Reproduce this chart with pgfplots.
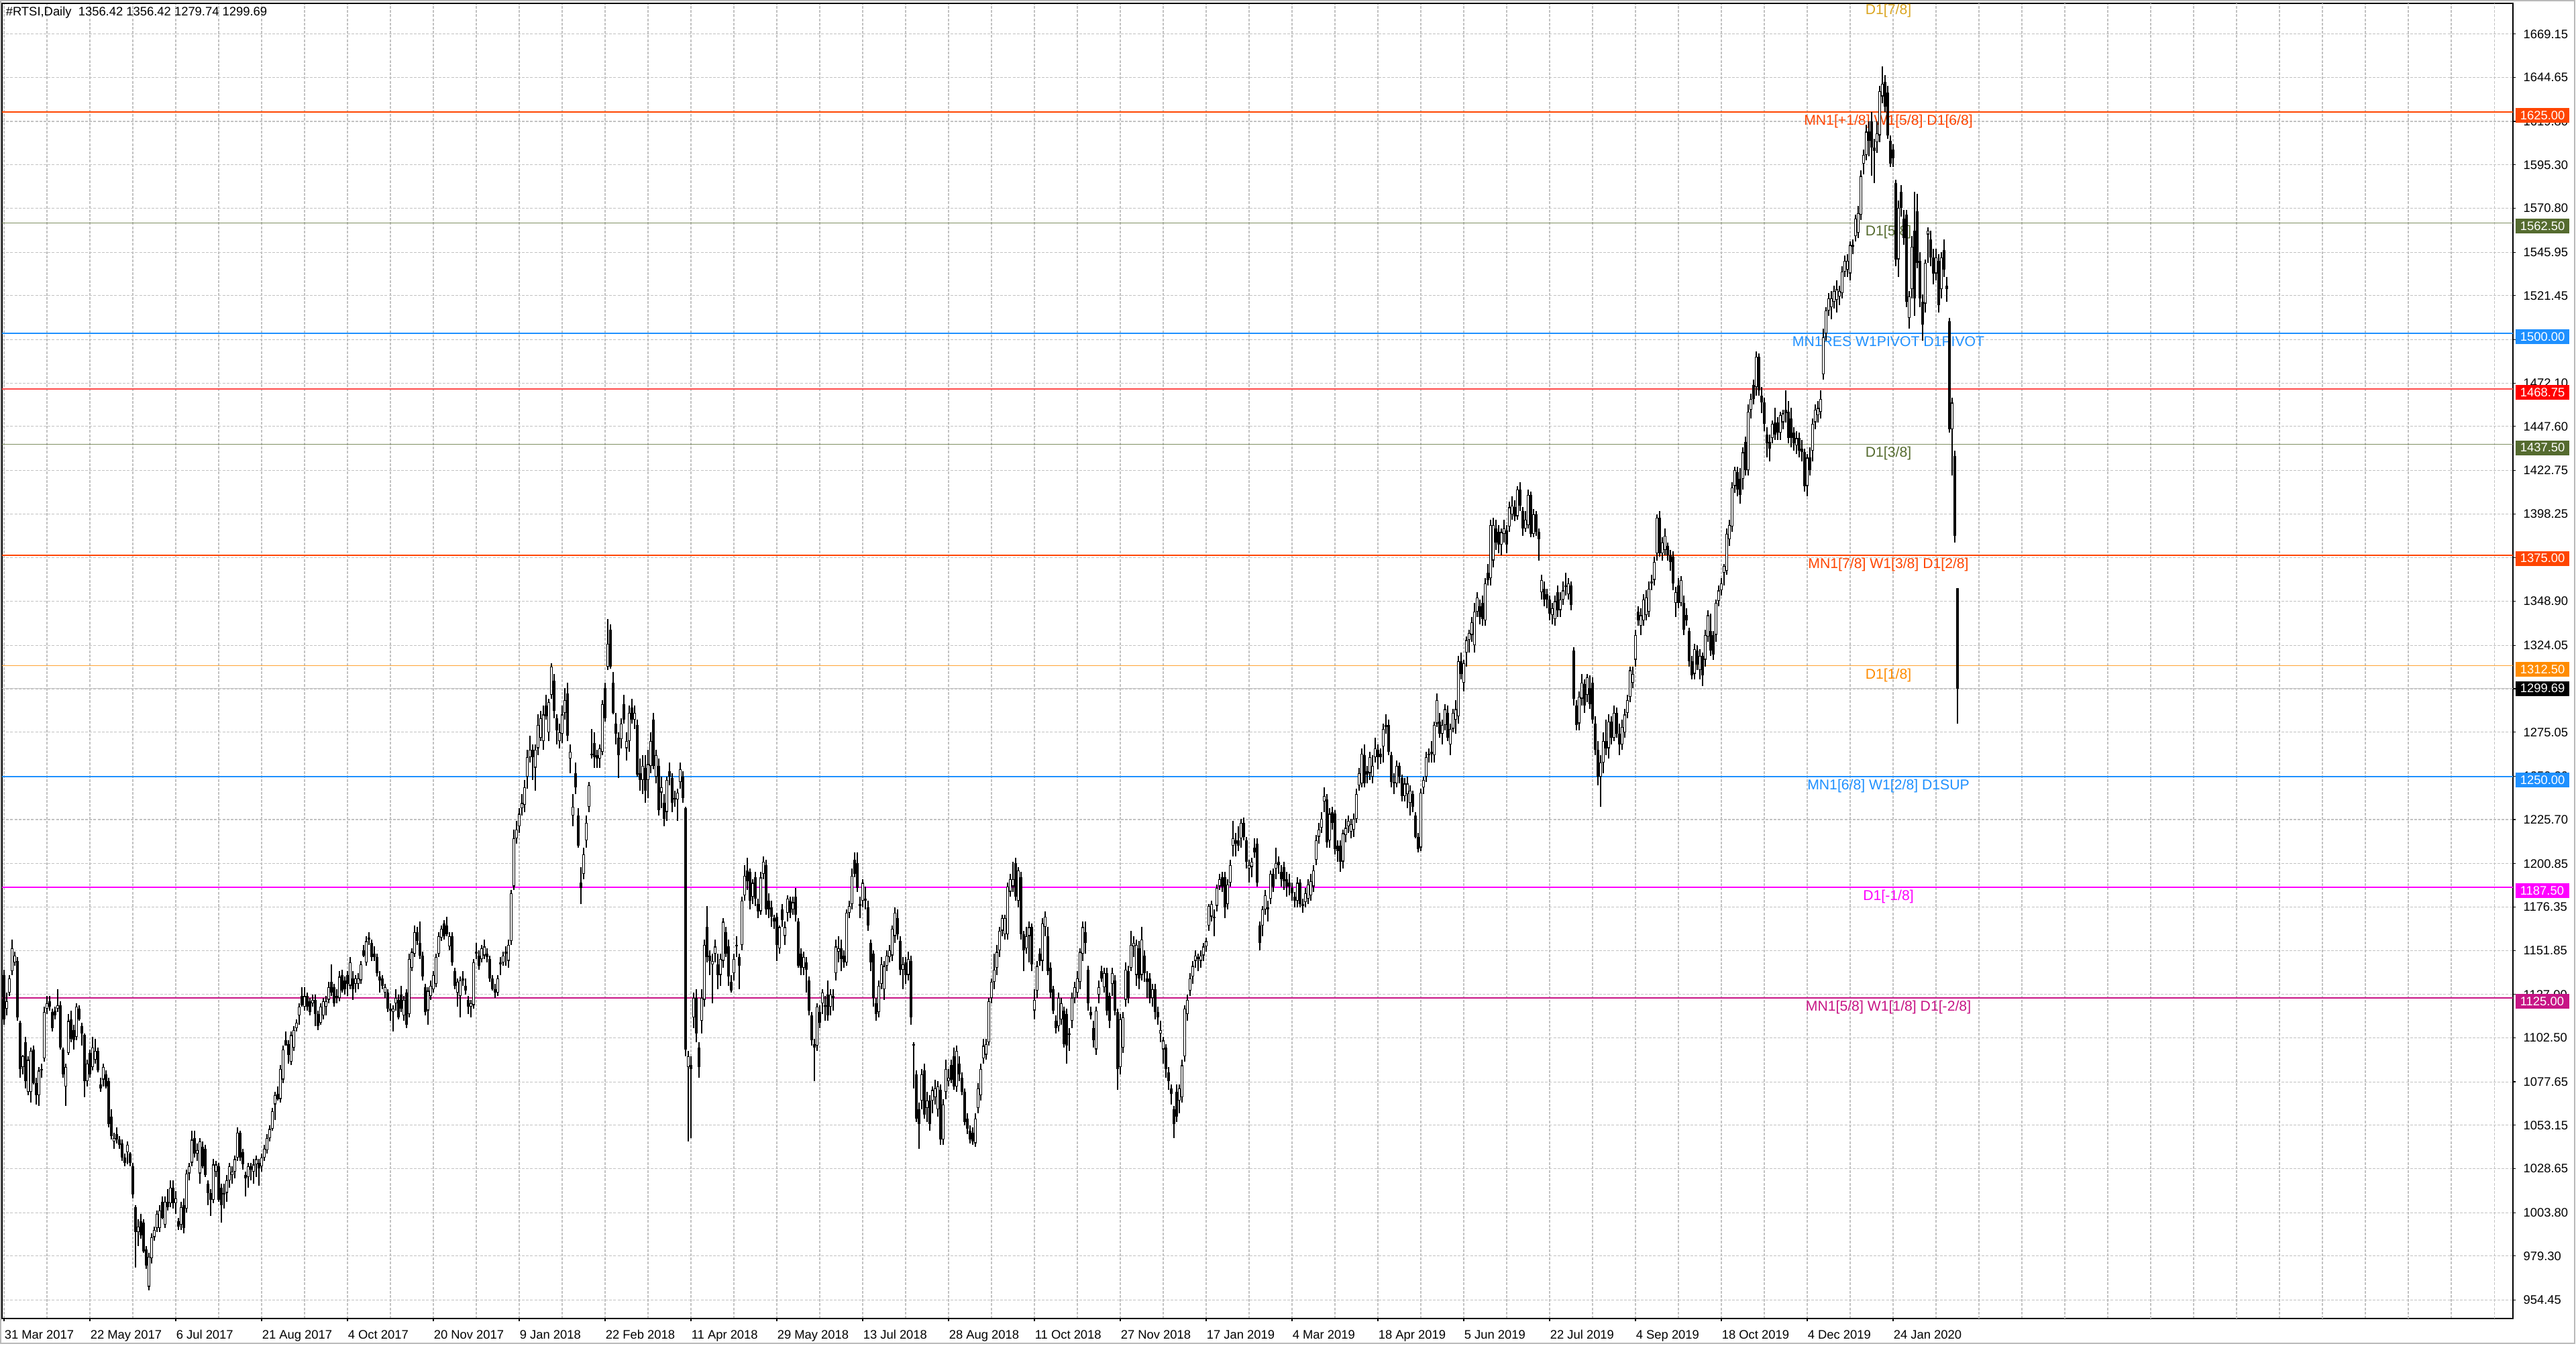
\documentclass[border=0pt]{standalone}
\usepackage{fontspec}
\setmainfont{Liberation Sans}
\usepackage{pgfplots}
\pgfplotsset{compat=1.18}
\usepackage{pgfplotstable}
\definecolor{orred}{HTML}{FF4500}
\definecolor{dblue}{HTML}{1E90FF}
\definecolor{dolive}{HTML}{556B2F}
\definecolor{dorange}{HTML}{FF8C00}
\definecolor{mvred}{HTML}{C71585}
\definecolor{gold7}{HTML}{DAA520}
\definecolor{magen}{HTML}{FF00FF}
\definecolor{gridc}{HTML}{C2C2C2}
\newcommand\lvfont{\fontsize{5.3pt}{6pt}\selectfont}
\newcommand\smfont{\fontsize{4.6pt}{5.5pt}\selectfont}
\tikzset{lbl/.style={font=\lvfont, anchor=north, inner sep=0pt, yshift=-0.8pt},
  pbox/.style={anchor=west, xshift=0.75pt, yshift=-1.25pt, text=white, font=\smfont, inner xsep=1.75pt, inner ysep=0pt, minimum height=5.5pt, text width=16.5pt, align=left}}

% daily candles: per bar two rows (x, low|high, open|close, white-body flag), then a break row
\pgfplotstableread{
x y b s
0 1110 1138 0
0 1141 1113 0
0 nan nan 0
1 1115 1119 1
1 1128 1123 -1
0 nan nan 0
2 1126 1128 1
2 1138 1136 -1
0 nan nan 0
3 1138 1140 1
3 1158 1153 -1
0 nan nan 0
4 1143 1145 1
4 1151 1149 -1
0 nan nan 0
5 1112 1146 0
5 1148 1114 0
0 nan nan 0
6 1080 1111 0
6 1112 1085 0
0 nan nan 0
7 1082 1086 1
7 1093 1092 -1
0 nan nan 0
8 1074 1100 0
8 1103 1078 0
0 nan nan 0
9 1070 1072 1
9 1092 1090 -1
0 nan nan 0
10 1066 1072 1
10 1097 1095 -1
0 nan nan 0
11 1076 1096 0
11 1098 1077 0
0 nan nan 0
12 1065 1077 0
12 1080 1070 0
0 nan nan 0
13 1064 1070 1
13 1086 1084 -1
0 nan nan 0
14 1080 1084 0
14 1088 1085 0
0 nan nan 0
15 1089 1091 1
15 1120 1117 -1
0 nan nan 0
16 1116 1119 1
16 1126 1122 -1
0 nan nan 0
17 1118 1123 0
17 1126 1120 0
0 nan nan 0
18 1106 1117 0
18 1119 1108 0
0 nan nan 0
19 1113 1118 0
19 1120 1115 0
0 nan nan 0
20 1117 1119 1
20 1130 1121 -1
0 nan nan 0
21 1096 1121 0
21 1123 1097 0
0 nan nan 0
22 1080 1096 0
22 1097 1082 0
0 nan nan 0
23 1064 1075 1
23 1088 1086 -1
0 nan nan 0
24 1093 1094 1
24 1116 1112 -1
0 nan nan 0
25 1100 1113 0
25 1118 1102 0
0 nan nan 0
26 1096 1107 0
26 1110 1101 0
0 nan nan 0
27 1101 1103 1
27 1122 1120 -1
0 nan nan 0
28 1112 1119 0
28 1121 1113 0
0 nan nan 0
29 1098 1109 0
29 1111 1105 0
0 nan nan 0
30 1069 1104 0
30 1105 1078 0
0 nan nan 0
31 1075 1078 1
31 1090 1088 -1
0 nan nan 0
32 1080 1094 0
32 1096 1082 0
0 nan nan 0
33 1084 1086 1
33 1103 1097 -1
0 nan nan 0
34 1088 1090 1
34 1102 1095 -1
0 nan nan 0
35 1083 1095 0
35 1097 1084 0
0 nan nan 0
36 1072 1076 0
36 1080 1074 0
0 nan nan 0
37 1075 1079 1
37 1088 1086 -1
0 nan nan 0
38 1074 1082 0
38 1084 1075 0
0 nan nan 0
39 1052 1078 0
39 1080 1054 0
0 nan nan 0
40 1045 1058 0
40 1062 1047 0
0 nan nan 0
41 1040 1044 1
41 1049 1046 -1
0 nan nan 0
42 1043 1048 0
42 1052 1045 0
0 nan nan 0
43 1040 1045 0
43 1047 1042 0
0 nan nan 0
44 1033 1043 0
44 1045 1035 0
0 nan nan 0
45 1030 1035 0
45 1037 1032 0
0 nan nan 0
46 1031 1038 1
46 1044 1042 -1
0 nan nan 0
47 1030 1037 0
47 1038 1032 0
0 nan nan 0
48 1012 1030 0
48 1032 1014 0
0 nan nan 0
49 973 1007 0
49 1008 993 0
0 nan nan 0
50 985 993 1
50 1000 996 -1
0 nan nan 0
51 989 999 0
51 1003 991 0
0 nan nan 0
52 981 998 0
52 1000 982 0
0 nan nan 0
53 972 983 0
53 985 974 0
0 nan nan 0
54 960 962 1
54 981 979 -1
0 nan nan 0
55 975 978 1
55 992 990 -1
0 nan nan 0
56 988 990 1
56 996 994 -1
0 nan nan 0
57 993 995 1
57 1005 1003 -1
0 nan nan 0
58 993 995 1
58 1008 1005 -1
0 nan nan 0
59 1000 1010 0
59 1013 1001 0
0 nan nan 0
60 995 997 1
60 1013 1010 -1
0 nan nan 0
61 1005 1010 0
61 1017 1007 0
0 nan nan 0
62 1007 1009 1
62 1022 1018 -1
0 nan nan 0
63 1006 1018 0
63 1022 1009 0
0 nan nan 0
64 1003 1009 1
64 1016 1012 -1
0 nan nan 0
65 994 999 0
65 1001 996 0
0 nan nan 0
66 994 997 1
66 1010 1007 -1
0 nan nan 0
67 992 1008 0
67 1012 995 0
0 nan nan 0
68 1004 1006 1
68 1028 1026 -1
0 nan nan 0
69 1022 1026 1
69 1032 1030 -1
0 nan nan 0
70 1030 1032 1
70 1050 1045 -1
0 nan nan 0
71 1035 1046 0
71 1050 1037 0
0 nan nan 0
72 1033 1037 1
72 1043 1039 -1
0 nan nan 0
73 1020 1026 1
73 1046 1044 -1
0 nan nan 0
74 1029 1041 0
74 1044 1030 0
0 nan nan 0
75 1024 1040 0
75 1042 1025 0
0 nan nan 0
76 1008 1020 0
76 1022 1015 0
0 nan nan 0
77 1002 1015 0
77 1017 1011 0
0 nan nan 0
78 1009 1011 1
78 1034 1031 -1
0 nan nan 0
79 1024 1027 1
79 1033 1031 -1
0 nan nan 0
80 1010 1030 0
80 1032 1011 0
0 nan nan 0
81 998 1018 0
81 1020 1008 0
0 nan nan 0
82 1006 1014 0
82 1020 1015 0
0 nan nan 0
83 1010 1015 1
83 1025 1022 -1
0 nan nan 0
84 1018 1022 1
84 1032 1030 -1
0 nan nan 0
85 1020 1025 1
85 1030 1027 -1
0 nan nan 0
86 1023 1027 1
86 1036 1034 -1
0 nan nan 0
87 1033 1035 1
87 1052 1049 -1
0 nan nan 0
88 1033 1049 0
88 1050 1035 0
0 nan nan 0
89 1028 1038 0
89 1040 1031 0
0 nan nan 0
90 1013 1025 0
90 1027 1023 0
0 nan nan 0
91 1018 1024 1
91 1032 1030 -1
0 nan nan 0
92 1022 1030 0
92 1032 1028 0
0 nan nan 0
93 1020 1027 1
93 1034 1031 -1
0 nan nan 0
94 1024 1031 1
94 1036 1034 -1
0 nan nan 0
95 1019 1032 0
95 1034 1029 0
0 nan nan 0
96 1027 1030 1
96 1037 1035 -1
0 nan nan 0
97 1033 1035 1
97 1042 1040 -1
0 nan nan 0
98 1037 1039 1
98 1048 1046 -1
0 nan nan 0
99 1044 1046 1
99 1053 1051 -1
0 nan nan 0
100 1050 1051 1
100 1063 1061 -1
0 nan nan 0
101 1056 1065 1
101 1072 1070 -1
0 nan nan 0
102 1067 1071 0
102 1075 1068 0
0 nan nan 0
103 1066 1068 1
103 1087 1085 -1
0 nan nan 0
104 1077 1079 1
104 1098 1096 -1
0 nan nan 0
105 1098 1101 0
105 1106 1098 0
0 nan nan 0
106 1088 1099 0
106 1101 1093 0
0 nan nan 0
107 1087 1089 1
107 1106 1104 -1
0 nan nan 0
108 1095 1097 1
108 1109 1107 -1
0 nan nan 0
109 1106 1108 1
109 1113 1111 -1
0 nan nan 0
110 1110 1115 1
110 1122 1120 -1
0 nan nan 0
111 1120 1126 0
111 1131 1121 0
0 nan nan 0
112 1118 1120 1
112 1131 1126 -1
0 nan nan 0
113 1118 1126 0
113 1128 1120 0
0 nan nan 0
114 1115 1123 0
114 1125 1117 0
0 nan nan 0
115 1120 1122 1
115 1127 1124 -1
0 nan nan 0
116 1109 1124 0
116 1127 1116 0
0 nan nan 0
117 1107 1116 0
117 1118 1109 0
0 nan nan 0
118 1110 1111 1
118 1122 1120 -1
0 nan nan 0
119 1113 1115 1
119 1125 1123 -1
0 nan nan 0
120 1115 1120 1
120 1126 1123 -1
0 nan nan 0
121 1122 1124 1
121 1134 1131 -1
0 nan nan 0
122 1126 1134 0
122 1144 1128 0
0 nan nan 0
123 1120 1131 0
123 1133 1122 0
0 nan nan 0
124 1122 1126 0
124 1130 1125 0
0 nan nan 0
125 1123 1125 1
125 1140 1137 -1
0 nan nan 0
126 1128 1138 0
126 1141 1129 0
0 nan nan 0
127 1127 1135 0
127 1137 1130 0
0 nan nan 0
128 1126 1138 0
128 1140 1133 0
0 nan nan 0
129 1130 1132 1
129 1148 1145 -1
0 nan nan 0
130 1124 1136 0
130 1140 1130 0
0 nan nan 0
131 1128 1133 1
131 1138 1136 -1
0 nan nan 0
132 1130 1133 1
132 1139 1136 -1
0 nan nan 0
133 1133 1135 1
133 1146 1144 -1
0 nan nan 0
134 1148 1152 0
134 1155 1149 0
0 nan nan 0
135 1143 1145 1
135 1160 1157 -1
0 nan nan 0
136 1155 1158 0
136 1162 1159 0
0 nan nan 0
137 1146 1156 0
137 1158 1148 0
0 nan nan 0
138 1146 1150 0
138 1154 1148 0
0 nan nan 0
139 1137 1148 0
139 1150 1139 0
0 nan nan 0
140 1128 1137 0
140 1140 1135 0
0 nan nan 0
141 1130 1136 0
141 1138 1132 0
0 nan nan 0
142 1125 1128 1
142 1133 1131 -1
0 nan nan 0
143 1117 1128 0
143 1130 1119 0
0 nan nan 0
144 1112 1119 0
144 1122 1118 0
0 nan nan 0
145 1106 1117 1
145 1121 1119 -1
0 nan nan 0
146 1118 1122 1
146 1130 1125 -1
0 nan nan 0
147 1113 1124 0
147 1127 1114 0
0 nan nan 0
148 1117 1127 0
148 1132 1119 0
0 nan nan 0
149 1112 1115 1
149 1126 1124 -1
0 nan nan 0
150 1108 1128 0
150 1130 1110 0
0 nan nan 0
151 1114 1116 1
151 1150 1147 -1
0 nan nan 0
152 1140 1142 1
152 1153 1151 -1
0 nan nan 0
153 1148 1150 1
153 1166 1162 -1
0 nan nan 0
154 1155 1162 0
154 1165 1157 0
0 nan nan 0
155 1147 1156 0
155 1168 1149 0
0 nan nan 0
156 1135 1149 0
156 1151 1137 0
0 nan nan 0
157 1115 1131 0
157 1133 1117 0
0 nan nan 0
158 1110 1118 1
158 1131 1129 -1
0 nan nan 0
159 1124 1126 1
159 1135 1132 -1
0 nan nan 0
160 1128 1130 1
160 1140 1138 -1
0 nan nan 0
161 1131 1133 1
161 1150 1148 -1
0 nan nan 0
162 1148 1150 1
162 1162 1160 -1
0 nan nan 0
163 1157 1159 1
163 1166 1164 -1
0 nan nan 0
164 1158 1167 0
164 1169 1160 0
0 nan nan 0
165 1160 1166 0
165 1171 1161 0
0 nan nan 0
166 1152 1154 1
166 1162 1160 -1
0 nan nan 0
167 1143 1160 0
167 1162 1145 0
0 nan nan 0
168 1130 1140 0
168 1142 1132 0
0 nan nan 0
169 1120 1128 1
169 1136 1134 -1
0 nan nan 0
170 1114 1126 1
170 1137 1135 -1
0 nan nan 0
171 1132 1135 0
171 1140 1136 0
0 nan nan 0
172 1127 1132 0
172 1136 1129 0
0 nan nan 0
173 1116 1124 0
173 1126 1120 0
0 nan nan 0
174 1114 1120 1
174 1124 1122 -1
0 nan nan 0
175 1119 1121 1
175 1147 1145 -1
0 nan nan 0
176 1147 1150 0
176 1156 1151 0
0 nan nan 0
177 1141 1149 0
177 1152 1143 0
0 nan nan 0
178 1145 1147 1
178 1155 1153 -1
0 nan nan 0
179 1147 1149 1
179 1158 1154 -1
0 nan nan 0
180 1145 1150 0
180 1153 1148 0
0 nan nan 0
181 1134 1147 0
181 1149 1136 0
0 nan nan 0
182 1129 1136 0
182 1138 1130 0
0 nan nan 0
183 1125 1130 0
183 1133 1128 0
0 nan nan 0
184 1126 1128 1
184 1138 1136 -1
0 nan nan 0
185 1138 1144 0
185 1148 1145 0
0 nan nan 0
186 1143 1145 1
186 1151 1149 -1
0 nan nan 0
187 1143 1150 0
187 1154 1151 0
0 nan nan 0
188 1142 1146 1
188 1158 1155 -1
0 nan nan 0
189 1155 1157 1
189 1186 1184 -1
0 nan nan 0
190 1186 1188 1
190 1220 1215 -1
0 nan nan 0
191 1212 1215 1
191 1225 1220 -1
0 nan nan 0
192 1218 1222 1
192 1232 1229 -1
0 nan nan 0
193 1228 1232 1
193 1240 1235 -1
0 nan nan 0
194 1230 1234 1
194 1248 1244 -1
0 nan nan 0
195 1243 1250 1
195 1265 1261 -1
0 nan nan 0
196 1258 1261 1
196 1273 1265 -1
0 nan nan 0
197 1248 1265 0
197 1268 1261 0
0 nan nan 0
198 1242 1255 1
198 1268 1265 -1
0 nan nan 0
199 1262 1266 1
199 1285 1279 -1
0 nan nan 0
200 1270 1272 1
200 1287 1283 -1
0 nan nan 0
201 1265 1270 1
201 1290 1285 -1
0 nan nan 0
202 1282 1290 0
202 1296 1284 0
0 nan nan 0
203 1270 1275 1
203 1294 1292 -1
0 nan nan 0
204 1294 1296 1
204 1314 1312 -1
0 nan nan 0
205 1283 1304 0
205 1308 1287 0
0 nan nan 0
206 1268 1283 0
206 1285 1276 0
0 nan nan 0
207 1266 1270 1
207 1280 1275 -1
0 nan nan 0
208 1269 1274 1
208 1290 1285 -1
0 nan nan 0
209 1282 1286 1
209 1300 1293 -1
0 nan nan 0
210 1270 1297 0
210 1303 1273 0
0 nan nan 0
211 1252 1260 1
211 1268 1264 -1
0 nan nan 0
212 1222 1228 1
212 1240 1233 -1
0 nan nan 0
213 1240 1252 0
213 1258 1244 0
0 nan nan 0
214 1210 1228 0
214 1232 1211 0
0 nan nan 0
215 1178 1190 0
215 1199 1187 0
0 nan nan 0
216 1192 1195 1
216 1210 1206 -1
0 nan nan 0
217 1210 1214 1
217 1228 1224 -1
0 nan nan 0
218 1230 1233 1
218 1247 1245 -1
0 nan nan 0
219 1260 1263 0
219 1277 1262 0
0 nan nan 0
220 1255 1269 0
220 1275 1261 0
0 nan nan 0
221 1255 1262 0
221 1265 1260 0
0 nan nan 0
222 1255 1260 1
222 1268 1266 -1
0 nan nan 0
223 1262 1264 1
223 1293 1291 -1
0 nan nan 0
224 1281 1300 0
224 1303 1283 0
0 nan nan 0
225 1310 1312 1
225 1339 1325 -1
0 nan nan 0
226 1311 1333 0
226 1336 1312 0
0 nan nan 0
227 1285 1303 0
227 1309 1286 0
0 nan nan 0
228 1268 1280 0
228 1286 1274 0
0 nan nan 0
229 1249 1272 0
229 1275 1262 0
0 nan nan 0
230 1266 1271 1
230 1283 1280 -1
0 nan nan 0
231 1280 1291 0
231 1296 1282 0
0 nan nan 0
232 1259 1266 1
232 1275 1270 -1
0 nan nan 0
233 1264 1270 1
233 1290 1286 -1
0 nan nan 0
234 1280 1289 0
234 1294 1282 0
0 nan nan 0
235 1277 1282 1
235 1290 1286 -1
0 nan nan 0
236 1250 1279 0
236 1282 1251 0
0 nan nan 0
237 1242 1252 0
237 1260 1248 0
0 nan nan 0
238 1240 1248 1
238 1262 1256 -1
0 nan nan 0
239 1235 1255 0
239 1262 1242 0
0 nan nan 0
240 1238 1248 1
240 1265 1257 -1
0 nan nan 0
241 1252 1256 1
241 1275 1270 -1
0 nan nan 0
242 1254 1282 0
242 1286 1256 0
0 nan nan 0
243 1246 1250 1
243 1265 1262 -1
0 nan nan 0
244 1228 1256 0
244 1260 1231 0
0 nan nan 0
245 1232 1241 1
245 1250 1244 -1
0 nan nan 0
246 1222 1235 0
246 1240 1226 0
0 nan nan 0
247 1225 1230 1
247 1250 1248 -1
0 nan nan 0
248 1245 1253 0
248 1258 1250 0
0 nan nan 0
249 1230 1249 0
249 1252 1235 0
0 nan nan 0
250 1233 1238 0
250 1242 1237 0
0 nan nan 0
251 1225 1237 1
251 1243 1241 -1
0 nan nan 0
252 1243 1247 1
252 1258 1254 -1
0 nan nan 0
253 1235 1250 0
253 1253 1238 0
0 nan nan 0
254 1092 1232 0
254 1233 1096 0
0 nan nan 0
255 1044 1086 1
255 1095 1092 -1
0 nan nan 0
256 1046 1087 0
256 1092 1085 0
0 nan nan 0
257 1108 1114 1
257 1128 1125 -1
0 nan nan 0
258 1100 1125 0
258 1130 1105 0
0 nan nan 0
259 1080 1097 0
259 1100 1086 0
0 nan nan 0
260 1105 1112 1
260 1130 1125 -1
0 nan nan 0
261 1120 1124 1
261 1158 1155 -1
0 nan nan 0
262 1145 1165 0
262 1177 1148 0
0 nan nan 0
263 1138 1149 0
263 1152 1146 0
0 nan nan 0
264 1122 1144 1
264 1150 1146 -1
0 nan nan 0
265 1145 1150 1
265 1158 1154 -1
0 nan nan 0
266 1130 1144 0
266 1150 1138 0
0 nan nan 0
267 1132 1138 1
267 1150 1147 -1
0 nan nan 0
268 1142 1146 1
268 1170 1168 -1
0 nan nan 0
269 1148 1162 0
269 1165 1150 0
0 nan nan 0
270 1132 1154 0
270 1158 1137 0
0 nan nan 0
271 1128 1134 0
271 1138 1129 0
0 nan nan 0
272 1135 1139 1
272 1150 1147 -1
0 nan nan 0
273 1148 1155 0
273 1160 1154 0
0 nan nan 0
274 1130 1148 0
274 1150 1143 0
0 nan nan 0
275 1152 1155 1
275 1182 1180 -1
0 nan nan 0
276 1180 1183 1
276 1200 1194 -1
0 nan nan 0
277 1186 1197 0
277 1204 1191 0
0 nan nan 0
278 1175 1196 0
278 1198 1180 0
0 nan nan 0
279 1178 1182 1
279 1192 1190 -1
0 nan nan 0
280 1177 1193 0
280 1196 1181 0
0 nan nan 0
281 1170 1178 0
281 1181 1174 0
0 nan nan 0
282 1172 1174 1
282 1196 1193 -1
0 nan nan 0
283 1192 1195 1
283 1205 1202 -1
0 nan nan 0
284 1172 1200 0
284 1203 1175 0
0 nan nan 0
285 1170 1180 0
285 1184 1175 0
0 nan nan 0
286 1165 1176 0
286 1180 1171 0
0 nan nan 0
287 1164 1170 0
287 1172 1168 0
0 nan nan 0
288 1146 1171 0
288 1173 1155 0
0 nan nan 0
289 1150 1153 1
289 1166 1165 -1
0 nan nan 0
290 1165 1175 0
290 1178 1169 0
0 nan nan 0
291 1155 1160 1
291 1168 1165 -1
0 nan nan 0
292 1168 1173 1
292 1183 1181 -1
0 nan nan 0
293 1170 1180 0
293 1182 1173 0
0 nan nan 0
294 1172 1175 1
294 1182 1179 -1
0 nan nan 0
295 1168 1182 0
295 1187 1172 0
0 nan nan 0
296 1142 1168 0
296 1170 1143 0
0 nan nan 0
297 1138 1150 0
297 1153 1142 0
0 nan nan 0
298 1138 1142 1
298 1151 1148 -1
0 nan nan 0
299 1128 1145 0
299 1148 1141 0
0 nan nan 0
300 1115 1135 0
300 1137 1118 0
0 nan nan 0
301 1098 1115 0
301 1117 1101 0
0 nan nan 0
302 1078 1099 0
302 1102 1097 0
0 nan nan 0
303 1095 1098 1
303 1122 1120 -1
0 nan nan 0
304 1108 1117 0
304 1121 1111 0
0 nan nan 0
305 1116 1122 1
305 1130 1128 -1
0 nan nan 0
306 1112 1120 0
306 1126 1121 0
0 nan nan 0
307 1112 1127 0
307 1135 1115 0
0 nan nan 0
308 1115 1120 1
308 1130 1127 -1
0 nan nan 0
309 1118 1125 0
309 1130 1126 0
0 nan nan 0
310 1135 1139 1
310 1158 1154 -1
0 nan nan 0
311 1145 1151 1
311 1160 1153 -1
0 nan nan 0
312 1140 1153 0
312 1158 1147 0
0 nan nan 0
313 1142 1149 0
313 1152 1145 0
0 nan nan 0
314 1143 1145 1
314 1175 1173 -1
0 nan nan 0
315 1170 1173 1
315 1180 1177 -1
0 nan nan 0
316 1175 1178 1
316 1198 1194 -1
0 nan nan 0
317 1193 1203 0
317 1207 1195 0
0 nan nan 0
318 1185 1201 0
318 1207 1187 0
0 nan nan 0
319 1170 1177 0
319 1182 1178 0
0 nan nan 0
320 1176 1180 1
320 1192 1190 -1
0 nan nan 0
321 1175 1180 0
321 1188 1181 0
0 nan nan 0
322 1163 1176 0
322 1180 1166 0
0 nan nan 0
323 1140 1156 0
323 1158 1145 0
0 nan nan 0
324 1120 1150 0
324 1152 1125 0
0 nan nan 0
325 1112 1122 0
325 1125 1116 0
0 nan nan 0
326 1114 1117 1
326 1135 1132 -1
0 nan nan 0
327 1130 1133 1
327 1148 1144 -1
0 nan nan 0
328 1124 1130 1
328 1146 1143 -1
0 nan nan 0
329 1140 1143 1
329 1152 1149 -1
0 nan nan 0
330 1145 1148 1
330 1155 1152 -1
0 nan nan 0
331 1146 1149 1
331 1166 1164 -1
0 nan nan 0
332 1156 1160 1
332 1176 1173 -1
0 nan nan 0
333 1158 1170 0
333 1175 1161 0
0 nan nan 0
334 1138 1157 0
334 1160 1141 0
0 nan nan 0
335 1130 1141 1
335 1148 1144 -1
0 nan nan 0
336 1133 1145 0
336 1148 1138 0
0 nan nan 0
337 1135 1138 1
337 1151 1147 -1
0 nan nan 0
338 1110 1146 0
338 1149 1114 0
0 nan nan 0
339 1074 1098 0
339 1100 1099 0
0 nan nan 0
340 1055 1082 0
340 1084 1057 0
0 nan nan 0
341 1040 1062 0
341 1066 1054 0
0 nan nan 0
342 1062 1067 1
342 1085 1082 -1
0 nan nan 0
343 1057 1084 0
343 1088 1059 0
0 nan nan 0
344 1055 1063 1
344 1072 1067 -1
0 nan nan 0
345 1050 1067 0
345 1070 1054 0
0 nan nan 0
346 1060 1067 1
346 1075 1073 -1
0 nan nan 0
347 1065 1069 1
347 1079 1074 -1
0 nan nan 0
348 1058 1062 1
348 1078 1075 -1
0 nan nan 0
349 1042 1073 0
349 1076 1045 0
0 nan nan 0
350 1042 1045 1
350 1068 1065 -1
0 nan nan 0
351 1068 1072 1
351 1090 1085 -1
0 nan nan 0
352 1075 1078 1
352 1085 1080 -1
0 nan nan 0
353 1077 1087 0
353 1090 1079 0
0 nan nan 0
354 1073 1092 0
354 1097 1075 0
0 nan nan 0
355 1072 1075 1
355 1098 1095 -1
0 nan nan 0
356 1078 1088 0
356 1092 1082 0
0 nan nan 0
357 1070 1080 0
357 1083 1072 0
0 nan nan 0
358 1053 1072 0
358 1074 1055 0
0 nan nan 0
359 1048 1057 0
359 1060 1051 0
0 nan nan 0
360 1043 1050 0
360 1053 1045 0
0 nan nan 0
361 1042 1049 0
361 1052 1044 0
0 nan nan 0
362 1041 1043 1
362 1060 1057 -1
0 nan nan 0
363 1060 1063 1
363 1077 1074 -1
0 nan nan 0
364 1067 1070 1
364 1088 1085 -1
0 nan nan 0
365 1088 1091 1
365 1102 1098 -1
0 nan nan 0
366 1090 1093 1
366 1102 1099 -1
0 nan nan 0
367 1098 1100 1
367 1125 1123 -1
0 nan nan 0
368 1122 1125 1
368 1136 1134 -1
0 nan nan 0
369 1130 1134 1
369 1150 1141 -1
0 nan nan 0
370 1138 1142 1
370 1155 1151 -1
0 nan nan 0
371 1148 1152 1
371 1165 1163 -1
0 nan nan 0
372 1160 1163 1
372 1172 1170 -1
0 nan nan 0
373 1158 1161 1
373 1172 1170 -1
0 nan nan 0
374 1158 1161 1
374 1190 1188 -1
0 nan nan 0
375 1182 1185 1
375 1195 1192 -1
0 nan nan 0
376 1185 1188 1
376 1202 1192 -1
0 nan nan 0
377 1180 1201 0
377 1204 1182 0
0 nan nan 0
378 1176 1180 1
378 1199 1197 -1
0 nan nan 0
379 1158 1193 0
379 1196 1161 0
0 nan nan 0
380 1140 1161 0
380 1163 1152 0
0 nan nan 0
381 1150 1153 1
381 1165 1160 -1
0 nan nan 0
382 1145 1160 1
382 1168 1165 -1
0 nan nan 0
383 1140 1165 0
383 1167 1144 0
0 nan nan 0
384 1113 1118 1
384 1130 1124 -1
0 nan nan 0
385 1125 1129 1
385 1146 1143 -1
0 nan nan 0
386 1143 1150 0
386 1153 1146 0
0 nan nan 0
387 1140 1146 1
387 1170 1167 -1
0 nan nan 0
388 1160 1165 1
388 1174 1171 -1
0 nan nan 0
389 1138 1160 0
389 1165 1140 0
0 nan nan 0
390 1125 1142 0
390 1145 1128 0
0 nan nan 0
391 1116 1130 0
391 1132 1118 0
0 nan nan 0
392 1105 1112 0
392 1115 1108 0
0 nan nan 0
393 1106 1109 1
393 1128 1125 -1
0 nan nan 0
394 1110 1113 1
394 1125 1122 -1
0 nan nan 0
395 1097 1118 0
395 1120 1099 0
0 nan nan 0
396 1088 1116 0
396 1119 1098 0
0 nan nan 0
397 1095 1104 0
397 1108 1105 0
0 nan nan 0
398 1108 1112 1
398 1128 1125 -1
0 nan nan 0
399 1122 1125 1
399 1134 1131 -1
0 nan nan 0
400 1125 1128 1
400 1140 1136 -1
0 nan nan 0
401 1130 1134 1
401 1153 1151 -1
0 nan nan 0
402 1146 1150 1
402 1168 1165 -1
0 nan nan 0
403 1150 1162 0
403 1168 1156 0
0 nan nan 0
404 1118 1141 0
404 1143 1122 0
0 nan nan 0
405 1113 1117 0
405 1120 1115 0
0 nan nan 0
406 1097 1108 0
406 1112 1101 0
0 nan nan 0
407 1093 1096 1
407 1120 1118 -1
0 nan nan 0
408 1122 1127 1
408 1135 1131 -1
0 nan nan 0
409 1134 1140 0
409 1143 1136 0
0 nan nan 0
410 1128 1131 1
410 1142 1139 -1
0 nan nan 0
411 1115 1139 0
411 1142 1118 0
0 nan nan 0
412 1108 1126 0
412 1128 1112 0
0 nan nan 0
413 1126 1133 1
413 1142 1139 -1
0 nan nan 0
414 1115 1135 0
414 1138 1118 0
0 nan nan 0
415 1073 1117 0
415 1119 1085 0
0 nan nan 0
416 1082 1086 1
416 1116 1113 -1
0 nan nan 0
417 1094 1097 1
417 1117 1114 -1
0 nan nan 0
418 1120 1124 1
418 1145 1141 -1
0 nan nan 0
419 1122 1140 0
419 1143 1125 0
0 nan nan 0
420 1140 1142 1
420 1163 1155 -1
0 nan nan 0
421 1148 1154 1
421 1160 1156 -1
0 nan nan 0
422 1132 1138 1
422 1158 1155 -1
0 nan nan 0
423 1130 1153 0
423 1157 1136 0
0 nan nan 0
424 1135 1138 1
424 1165 1158 -1
0 nan nan 0
425 1134 1149 0
425 1152 1139 0
0 nan nan 0
426 1125 1136 0
426 1140 1134 0
0 nan nan 0
427 1122 1136 0
427 1139 1125 0
0 nan nan 0
428 1120 1125 1
428 1133 1130 -1
0 nan nan 0
429 1113 1130 0
429 1133 1117 0
0 nan nan 0
430 1110 1117 0
430 1120 1114 0
0 nan nan 0
431 1100 1105 1
431 1112 1107 -1
0 nan nan 0
432 1088 1096 1
432 1103 1101 -1
0 nan nan 0
433 1080 1097 0
433 1099 1085 0
0 nan nan 0
434 1073 1083 0
434 1086 1078 0
0 nan nan 0
435 1065 1074 0
435 1076 1071 0
0 nan nan 0
436 1046 1062 0
436 1064 1054 0
0 nan nan 0
437 1055 1072 0
437 1076 1058 0
0 nan nan 0
438 1060 1067 1
438 1076 1074 -1
0 nan nan 0
439 1066 1069 1
439 1090 1087 -1
0 nan nan 0
440 1089 1092 1
440 1121 1119 -1
0 nan nan 0
441 1112 1116 1
441 1127 1124 -1
0 nan nan 0
442 1126 1129 1
442 1139 1136 -1
0 nan nan 0
443 1133 1137 1
443 1146 1143 -1
0 nan nan 0
444 1142 1146 1
444 1152 1149 -1
0 nan nan 0
445 1140 1147 0
445 1150 1148 0
0 nan nan 0
446 1142 1146 1
446 1152 1149 -1
0 nan nan 0
447 1146 1149 1
447 1156 1154 -1
0 nan nan 0
448 1151 1154 1
448 1159 1157 -1
0 nan nan 0
449 1163 1166 1
449 1178 1177 -1
0 nan nan 0
450 1168 1171 1
450 1180 1178 -1
0 nan nan 0
451 1160 1170 0
451 1175 1171 0
0 nan nan 0
452 1174 1177 1
452 1189 1187 -1
0 nan nan 0
453 1186 1188 1
453 1195 1192 -1
0 nan nan 0
454 1185 1193 0
454 1196 1188 0
0 nan nan 0
455 1170 1193 0
455 1196 1176 0
0 nan nan 0
456 1175 1178 1
456 1192 1189 -1
0 nan nan 0
457 1188 1190 1
457 1203 1200 -1
0 nan nan 0
458 1205 1211 1
458 1225 1215 -1
0 nan nan 0
459 1205 1214 0
459 1218 1212 0
0 nan nan 0
460 1208 1214 0
460 1222 1211 0
0 nan nan 0
461 1210 1215 1
461 1226 1224 -1
0 nan nan 0
462 1214 1224 0
462 1227 1216 0
0 nan nan 0
463 1198 1214 0
463 1216 1202 0
0 nan nan 0
464 1190 1198 1
464 1203 1200 -1
0 nan nan 0
465 1193 1199 1
465 1204 1202 -1
0 nan nan 0
466 1204 1210 0
466 1215 1207 0
0 nan nan 0
467 1188 1212 0
467 1215 1190 0
0 nan nan 0
468 1152 1166 0
468 1168 1156 0
0 nan nan 0
469 1160 1166 1
469 1177 1175 -1
0 nan nan 0
470 1172 1175 1
470 1186 1183 -1
0 nan nan 0
471 1168 1176 0
471 1180 1175 0
0 nan nan 0
472 1178 1181 1
472 1197 1195 -1
0 nan nan 0
473 1185 1195 0
473 1198 1188 0
0 nan nan 0
474 1192 1198 1
474 1210 1201 -1
0 nan nan 0
475 1195 1202 0
475 1205 1200 0
0 nan nan 0
476 1188 1196 0
476 1200 1192 0
0 nan nan 0
477 1186 1199 0
477 1202 1191 0
0 nan nan 0
478 1182 1192 0
478 1196 1188 0
0 nan nan 0
479 1183 1190 0
479 1195 1188 0
0 nan nan 0
480 1180 1187 0
480 1190 1184 0
0 nan nan 0
481 1176 1182 0
481 1185 1180 0
0 nan nan 0
482 1176 1180 1
482 1193 1190 -1
0 nan nan 0
483 1176 1190 0
483 1192 1178 0
0 nan nan 0
484 1173 1178 0
484 1181 1177 0
0 nan nan 0
485 1176 1179 1
485 1187 1184 -1
0 nan nan 0
486 1178 1181 1
486 1192 1189 -1
0 nan nan 0
487 1180 1183 1
487 1195 1191 -1
0 nan nan 0
488 1185 1188 1
488 1200 1197 -1
0 nan nan 0
489 1200 1203 1
489 1217 1214 -1
0 nan nan 0
490 1212 1216 1
490 1224 1220 -1
0 nan nan 0
491 1218 1221 1
491 1230 1226 -1
0 nan nan 0
492 1230 1236 1
492 1244 1239 -1
0 nan nan 0
493 1210 1237 0
493 1240 1213 0
0 nan nan 0
494 1210 1214 1
494 1232 1229 -1
0 nan nan 0
495 1220 1230 0
495 1233 1224 0
0 nan nan 0
496 1206 1229 0
496 1231 1209 0
0 nan nan 0
497 1202 1211 0
497 1214 1208 0
0 nan nan 0
498 1196 1211 0
498 1214 1202 0
0 nan nan 0
499 1198 1202 1
499 1220 1218 -1
0 nan nan 0
500 1213 1217 1
500 1226 1221 -1
0 nan nan 0
501 1218 1222 1
501 1228 1225 -1
0 nan nan 0
502 1215 1219 1
502 1226 1223 -1
0 nan nan 0
503 1216 1220 1
503 1229 1226 -1
0 nan nan 0
504 1224 1226 1
504 1243 1240 -1
0 nan nan 0
505 1242 1245 1
505 1255 1252 -1
0 nan nan 0
506 1244 1246 1
506 1266 1263 -1
0 nan nan 0
507 1244 1262 0
507 1268 1246 0
0 nan nan 0
508 1246 1253 0
508 1256 1251 0
0 nan nan 0
509 1248 1252 1
509 1264 1261 -1
0 nan nan 0
510 1246 1250 1
510 1262 1256 -1
0 nan nan 0
511 1258 1261 1
511 1272 1266 -1
0 nan nan 0
512 1254 1265 0
512 1268 1261 0
0 nan nan 0
513 1257 1263 0
513 1266 1261 0
0 nan nan 0
514 1258 1267 1
514 1280 1277 -1
0 nan nan 0
515 1274 1279 0
515 1285 1278 0
0 nan nan 0
516 1262 1279 0
516 1282 1264 0
0 nan nan 0
517 1244 1262 0
517 1264 1247 0
0 nan nan 0
518 1240 1247 0
518 1252 1246 0
0 nan nan 0
519 1244 1246 1
519 1259 1256 -1
0 nan nan 0
520 1246 1256 0
520 1258 1250 0
0 nan nan 0
521 1236 1249 0
521 1251 1239 0
0 nan nan 0
522 1236 1239 1
522 1249 1246 -1
0 nan nan 0
523 1232 1240 1
523 1250 1246 -1
0 nan nan 0
524 1228 1235 1
524 1245 1242 -1
0 nan nan 0
525 1230 1240 0
525 1242 1233 0
0 nan nan 0
526 1215 1228 0
526 1230 1216 0
0 nan nan 0
527 1207 1216 0
527 1218 1209 0
0 nan nan 0
528 1208 1210 1
528 1243 1241 -1
0 nan nan 0
529 1240 1244 1
529 1250 1248 -1
0 nan nan 0
530 1247 1250 1
530 1264 1261 -1
0 nan nan 0
531 1258 1262 0
531 1266 1263 0
0 nan nan 0
532 1258 1263 0
532 1270 1264 0
0 nan nan 0
533 1258 1262 1
533 1281 1279 -1
0 nan nan 0
534 1278 1280 1
534 1297 1293 -1
0 nan nan 0
535 1272 1281 0
535 1286 1274 0
0 nan nan 0
536 1268 1274 1
536 1282 1279 -1
0 nan nan 0
537 1276 1279 1
537 1291 1288 -1
0 nan nan 0
538 1270 1286 0
538 1290 1272 0
0 nan nan 0
539 1262 1268 1
539 1280 1277 -1
0 nan nan 0
540 1275 1277 1
540 1288 1286 -1
0 nan nan 0
541 1274 1282 1
541 1293 1288 -1
0 nan nan 0
542 1280 1284 1
542 1318 1315 -1
0 nan nan 0
543 1305 1315 0
543 1320 1308 0
0 nan nan 0
544 1298 1303 1
544 1316 1314 -1
0 nan nan 0
545 1312 1320 1
545 1329 1327 -1
0 nan nan 0
546 1320 1327 1
546 1333 1331 -1
0 nan nan 0
547 1326 1330 1
547 1340 1337 -1
0 nan nan 0
548 1320 1324 1
548 1348 1343 -1
0 nan nan 0
549 1340 1343 1
549 1354 1351 -1
0 nan nan 0
550 1336 1346 0
550 1350 1340 0
0 nan nan 0
551 1335 1348 0
551 1352 1339 0
0 nan nan 0
552 1335 1338 1
552 1362 1359 -1
0 nan nan 0
553 1358 1365 0
553 1370 1361 0
0 nan nan 0
554 1358 1362 1
554 1395 1392 -1
0 nan nan 0
555 1368 1372 1
555 1396 1392 -1
0 nan nan 0
556 1378 1390 0
556 1395 1382 0
0 nan nan 0
557 1376 1388 0
557 1392 1381 0
0 nan nan 0
558 1375 1381 1
558 1390 1388 -1
0 nan nan 0
559 1382 1387 1
559 1395 1390 -1
0 nan nan 0
560 1376 1389 0
560 1392 1381 0
0 nan nan 0
561 1388 1391 1
561 1405 1402 -1
0 nan nan 0
562 1395 1398 1
562 1408 1403 -1
0 nan nan 0
563 1394 1402 0
563 1406 1397 0
0 nan nan 0
564 1395 1397 1
564 1414 1412 -1
0 nan nan 0
565 1400 1412 0
565 1416 1403 0
0 nan nan 0
566 1386 1400 0
566 1402 1390 0
0 nan nan 0
567 1388 1390 1
567 1400 1395 -1
0 nan nan 0
568 1390 1392 1
568 1412 1409 -1
0 nan nan 0
569 1385 1409 0
569 1411 1387 0
0 nan nan 0
570 1385 1387 1
570 1401 1398 -1
0 nan nan 0
571 1386 1398 0
571 1400 1388 0
0 nan nan 0
572 1372 1388 0
572 1390 1384 0
0 nan nan 0
573 1350 1354 1
573 1364 1361 -1
0 nan nan 0
574 1346 1356 0
574 1360 1350 0
0 nan nan 0
575 1345 1353 0
575 1356 1350 0
0 nan nan 0
576 1338 1350 0
576 1352 1342 0
0 nan nan 0
577 1336 1341 1
577 1348 1345 -1
0 nan nan 0
578 1335 1339 1
578 1352 1349 -1
0 nan nan 0
579 1340 1354 0
579 1358 1344 0
0 nan nan 0
580 1340 1344 1
580 1354 1350 -1
0 nan nan 0
581 1347 1350 1
581 1360 1355 -1
0 nan nan 0
582 1352 1358 0
582 1365 1357 0
0 nan nan 0
583 1350 1353 1
583 1362 1359 -1
0 nan nan 0
584 1344 1358 0
584 1360 1347 0
0 nan nan 0
585 1290 1321 0
585 1323 1294 0
0 nan nan 0
586 1276 1290 0
586 1293 1279 0
0 nan nan 0
587 1276 1280 1
587 1298 1295 -1
0 nan nan 0
588 1290 1294 1
588 1308 1303 -1
0 nan nan 0
589 1286 1302 0
589 1305 1290 0
0 nan nan 0
590 1292 1296 1
590 1308 1306 -1
0 nan nan 0
591 1288 1300 0
591 1307 1291 0
0 nan nan 0
592 1280 1303 0
592 1306 1282 0
0 nan nan 0
593 1262 1280 0
593 1284 1265 0
0 nan nan 0
594 1245 1265 0
594 1270 1250 0
0 nan nan 0
595 1233 1250 1
595 1262 1258 -1
0 nan nan 0
596 1252 1258 1
596 1275 1270 -1
0 nan nan 0
597 1262 1270 0
597 1282 1266 0
0 nan nan 0
598 1260 1266 1
598 1285 1281 -1
0 nan nan 0
599 1268 1281 0
599 1284 1272 0
0 nan nan 0
600 1270 1272 1
600 1290 1286 -1
0 nan nan 0
601 1272 1286 0
601 1289 1274 0
0 nan nan 0
602 1262 1274 0
602 1280 1268 0
0 nan nan 0
603 1265 1268 1
603 1282 1278 -1
0 nan nan 0
604 1272 1275 1
604 1288 1285 -1
0 nan nan 0
605 1283 1286 1
605 1296 1293 -1
0 nan nan 0
606 1292 1295 1
606 1312 1310 -1
0 nan nan 0
607 1300 1303 1
607 1312 1308 -1
0 nan nan 0
608 1312 1316 1
608 1333 1330 -1
0 nan nan 0
609 1335 1343 0
609 1346 1338 0
0 nan nan 0
610 1330 1335 1
610 1345 1341 -1
0 nan nan 0
611 1335 1338 1
611 1353 1350 -1
0 nan nan 0
612 1338 1341 1
612 1355 1351 -1
0 nan nan 0
613 1340 1343 1
613 1360 1356 -1
0 nan nan 0
614 1355 1360 0
614 1364 1359 0
0 nan nan 0
615 1358 1361 1
615 1374 1371 -1
0 nan nan 0
616 1372 1376 1
616 1398 1396 -1
0 nan nan 0
617 1374 1396 0
617 1400 1376 0
0 nan nan 0
618 1372 1376 1
618 1385 1382 -1
0 nan nan 0
619 1375 1378 1
619 1390 1386 -1
0 nan nan 0
620 1372 1380 0
620 1382 1375 0
0 nan nan 0
621 1366 1375 0
621 1378 1371 0
0 nan nan 0
622 1355 1374 0
622 1377 1359 0
0 nan nan 0
623 1340 1348 1
623 1357 1354 -1
0 nan nan 0
624 1345 1358 0
624 1362 1348 0
0 nan nan 0
625 1346 1348 1
625 1363 1361 -1
0 nan nan 0
626 1330 1348 0
626 1352 1333 0
0 nan nan 0
627 1335 1341 0
627 1345 1338 0
0 nan nan 0
628 1312 1332 0
628 1334 1315 0
0 nan nan 0
629 1305 1315 0
629 1318 1307 0
0 nan nan 0
630 1305 1308 1
630 1325 1322 -1
0 nan nan 0
631 1310 1321 0
631 1324 1313 0
0 nan nan 0
632 1305 1310 1
632 1322 1318 -1
0 nan nan 0
633 1301 1318 0
633 1320 1307 0
0 nan nan 0
634 1312 1316 1
634 1333 1330 -1
0 nan nan 0
635 1326 1329 1
635 1344 1341 -1
0 nan nan 0
636 1318 1332 0
636 1342 1321 0
0 nan nan 0
637 1316 1330 0
637 1332 1319 0
0 nan nan 0
638 1326 1330 1
638 1350 1348 -1
0 nan nan 0
639 1346 1349 1
639 1358 1355 -1
0 nan nan 0
640 1352 1355 1
640 1362 1359 -1
0 nan nan 0
641 1358 1365 1
641 1370 1369 -1
0 nan nan 0
642 1364 1366 1
642 1390 1387 -1
0 nan nan 0
643 1380 1384 1
643 1395 1392 -1
0 nan nan 0
644 1388 1391 1
644 1416 1413 -1
0 nan nan 0
645 1410 1414 1
645 1425 1423 -1
0 nan nan 0
646 1408 1422 0
646 1425 1412 0
0 nan nan 0
647 1404 1418 0
647 1424 1409 0
0 nan nan 0
648 1412 1418 1
648 1436 1433 -1
0 nan nan 0
649 1420 1439 0
649 1442 1423 0
0 nan nan 0
650 1420 1423 1
650 1460 1456 -1
0 nan nan 0
651 1452 1457 1
651 1466 1463 -1
0 nan nan 0
652 1460 1471 0
652 1474 1463 0
0 nan nan 0
653 1465 1470 1
653 1490 1487 -1
0 nan nan 0
654 1465 1487 0
654 1489 1468 0
0 nan nan 0
655 1455 1465 0
655 1470 1461 0
0 nan nan 0
656 1445 1461 0
656 1464 1449 0
0 nan nan 0
657 1430 1443 0
657 1447 1438 0
0 nan nan 0
658 1428 1439 0
658 1443 1435 0
0 nan nan 0
659 1438 1441 1
659 1451 1449 -1
0 nan nan 0
660 1440 1450 0
660 1458 1443 0
0 nan nan 0
661 1440 1450 0
661 1453 1444 0
0 nan nan 0
662 1440 1444 1
662 1456 1454 -1
0 nan nan 0
663 1446 1450 1
663 1457 1455 -1
0 nan nan 0
664 1450 1457 0
664 1468 1455 0
0 nan nan 0
665 1438 1456 0
665 1462 1441 0
0 nan nan 0
666 1436 1452 0
666 1458 1441 0
0 nan nan 0
667 1434 1444 0
667 1447 1438 0
0 nan nan 0
668 1432 1437 1
668 1445 1441 -1
0 nan nan 0
669 1430 1441 0
669 1444 1434 0
0 nan nan 0
670 1428 1435 0
670 1440 1433 0
0 nan nan 0
671 1411 1433 0
671 1435 1414 0
0 nan nan 0
672 1408 1414 1
672 1432 1430 -1
0 nan nan 0
673 1420 1430 0
673 1436 1423 0
0 nan nan 0
674 1428 1434 1
674 1452 1449 -1
0 nan nan 0
675 1446 1450 1
675 1460 1457 -1
0 nan nan 0
676 1450 1454 1
676 1462 1458 -1
0 nan nan 0
677 1452 1456 1
677 1468 1463 -1
0 nan nan 0
678 1474 1477 1
678 1503 1498 -1
0 nan nan 0
679 1496 1500 1
679 1515 1513 -1
0 nan nan 0
680 1510 1513 1
680 1523 1520 -1
0 nan nan 0
681 1508 1515 1
681 1524 1520 -1
0 nan nan 0
682 1514 1518 1
682 1527 1524 -1
0 nan nan 0
683 1512 1519 1
683 1530 1525 -1
0 nan nan 0
684 1516 1521 1
684 1527 1524 -1
0 nan nan 0
685 1520 1523 1
685 1538 1535 -1
0 nan nan 0
686 1532 1535 1
686 1544 1541 -1
0 nan nan 0
687 1532 1536 1
687 1545 1541 -1
0 nan nan 0
688 1530 1534 1
688 1552 1550 -1
0 nan nan 0
689 1545 1550 0
689 1553 1549 0
0 nan nan 0
690 1552 1555 1
690 1567 1565 -1
0 nan nan 0
691 1554 1557 1
691 1572 1568 -1
0 nan nan 0
692 1564 1567 1
692 1592 1589 -1
0 nan nan 0
693 1590 1596 1
693 1604 1601 -1
0 nan nan 0
694 1598 1601 1
694 1618 1614 -1
0 nan nan 0
695 1600 1614 0
695 1620 1609 0
0 nan nan 0
696 1589 1620 0
696 1625 1605 0
0 nan nan 0
697 1585 1605 0
697 1610 1603 0
0 nan nan 0
698 1602 1608 1
698 1620 1613 -1
0 nan nan 0
699 1608 1612 1
699 1640 1637 -1
0 nan nan 0
700 1630 1634 1
700 1651 1641 -1
0 nan nan 0
701 1625 1642 0
701 1646 1628 0
0 nan nan 0
702 1610 1636 0
702 1640 1612 0
0 nan nan 0
703 1594 1609 0
703 1612 1596 0
0 nan nan 0
704 1594 1604 0
704 1607 1599 0
0 nan nan 0
705 1538 1585 0
705 1587 1542 0
0 nan nan 0
706 1532 1542 1
706 1575 1571 -1
0 nan nan 0
707 1566 1580 0
707 1584 1571 0
0 nan nan 0
708 1550 1565 0
708 1570 1554 0
0 nan nan 0
709 1515 1567 0
709 1570 1518 0
0 nan nan 0
710 1503 1509 1
710 1524 1521 -1
0 nan nan 0
711 1520 1525 1
711 1555 1549 -1
0 nan nan 0
712 1510 1558 0
712 1580 1520 0
0 nan nan 0
713 1537 1569 0
713 1579 1540 0
0 nan nan 0
714 1515 1541 0
714 1546 1520 0
0 nan nan 0
715 1496 1518 0
715 1522 1505 0
0 nan nan 0
716 1512 1517 1
716 1542 1540 -1
0 nan nan 0
717 1540 1556 1
717 1560 1558 -1
0 nan nan 0
718 1538 1553 0
718 1558 1543 0
0 nan nan 0
719 1528 1543 0
719 1548 1534 0
0 nan nan 0
720 1530 1534 1
720 1548 1543 -1
0 nan nan 0
721 1512 1541 0
721 1545 1516 0
0 nan nan 0
722 1520 1525 1
722 1546 1543 -1
0 nan nan 0
723 1532 1547 0
723 1553 1536 0
0 nan nan 0
724 1518 1527 0
724 1532 1525 0
0 nan nan 0
725 1444 1507 0
725 1509 1446 0
0 nan nan 0
726 1420 1446 1
726 1464 1461 -1
0 nan nan 0
727 1382 1431 0
727 1434 1386 0
0 nan nan 0
728 1279.74 1356.42 0
728 1356.42 1299.69 0
}\candles

\begin{document}
\begin{tikzpicture}[x=1pt,y=1pt]
\useasboundingbox (0,0) rectangle (960,501.5);
\draw[gray!55, line width=0.5pt] (0.3,0.7) rectangle (959.6,501.2);
\begin{axis}[
  at={(0.75pt,10pt)}, anchor=south west,
  scale only axis, width=935.75pt, height=490.25pt,
  xmin=-0.75, xmax=935, ymin=944.04, ymax=1686.44,
  clip=false,
  axis line style={line width=0.35pt, black},
  tick align=outside, xtick pos=left, ytick pos=right,
  major tick length=1.1pt, minor tick length=0pt,
  tick style={black, line width=0.3pt},
  xtick={0,32,...,704},
  xticklabels={31 Mar 2017,22 May 2017,6 Jul 2017,21 Aug 2017,4 Oct 2017,20 Nov 2017,9 Jan 2018,22 Feb 2018,11 Apr 2018,29 May 2018,13 Jul 2018,28 Aug 2018,11 Oct 2018,27 Nov 2018,17 Jan 2019,4 Mar 2019,18 Apr 2019,5 Jun 2019,22 Jul 2019,4 Sep 2019,18 Oct 2019,4 Dec 2019,24 Jan 2020},
  minor xtick={16,48,...,912},
  extra x ticks={736,768,...,928},
  extra x tick labels={},
  extra x tick style={grid=major, major tick length=0pt},
  xmajorgrids, xminorgrids, ymajorgrids,
  grid style={gridc, line width=0.28pt, dash pattern=on 1pt off 0.55pt},
  minor grid style={gridc, line width=0.28pt, dash pattern=on 1pt off 0.55pt},
  ytick={954.45,979.30,1003.80,1028.65,1053.15,1077.65,1102.50,1127.00,1151.85,1176.35,1200.85,1225.70,1250.20,1275.05,1299.55,1324.05,1348.90,1373.40,1398.25,1422.75,1447.60,1472.10,1496.60,1521.45,1545.95,1570.80,1595.30,1619.80,1644.65,1669.15},
  yticklabels={954.45,979.30,1003.80,1028.65,1053.15,1077.65,1102.50,1127.00,1151.85,1176.35,1200.85,1225.70,1250.20,1275.05,{},1324.05,1348.90,{},1398.25,1422.75,1447.60,1472.10,{},1521.45,1545.95,1570.80,1595.30,1619.80,1644.65,1669.15},
  yticklabel pos=right,
  xticklabel style={font=\smfont, anchor=north west, inner sep=0pt, yshift=-3pt},
  yticklabel style={font=\smfont, anchor=west, inner sep=0pt, xshift=2.6pt},
]
% level lines
\addplot[orred, line width=0.5pt, forget plot] coordinates {(-0.75,1625) (935,1625)};
\addplot[dolive!75, line width=0.3pt, forget plot] coordinates {(-0.75,1562.5) (935,1562.5)};
\addplot[dblue, line width=0.5pt, forget plot] coordinates {(-0.75,1500) (935,1500)};
\addplot[red!70, line width=0.3pt, forget plot] coordinates {(-0.75,1468.75) (935,1468.75)};
\addplot[dolive!75, line width=0.3pt, forget plot] coordinates {(-0.75,1437.5) (935,1437.5)};
\addplot[orred, line width=0.5pt, forget plot] coordinates {(-0.75,1375) (935,1375)};
\addplot[dorange!80, line width=0.3pt, forget plot] coordinates {(-0.75,1312.5) (935,1312.5)};
\addplot[gray!45, line width=0.3pt, forget plot] coordinates {(-0.75,1299.69) (935,1299.69)};
\addplot[dblue, line width=0.5pt, forget plot] coordinates {(-0.75,1250) (935,1250)};
\addplot[magen, line width=0.3pt, forget plot] coordinates {(-0.75,1187.5) (935,1187.5)};
\addplot[mvred, line width=0.5pt, forget plot] coordinates {(-0.75,1125) (935,1125)};
% level texts
\node[lbl, text=gold7] at (axis cs:702.25,1687.5) {D1[7/8]};
\node[lbl, text=orred] at (axis cs:702.25,1625) {MN1[+1/8] W1[5/8] D1[6/8]};
\node[lbl, text=dolive] at (axis cs:702.25,1562.5) {D1[5/8]};
\node[lbl, text=dblue] at (axis cs:702.25,1500) {MN1RES W1PIVOT D1PIVOT};
\node[lbl, text=dolive] at (axis cs:702.25,1437.5) {D1[3/8]};
\node[lbl, text=orred] at (axis cs:702.25,1375) {MN1[7/8] W1[3/8] D1[2/8]};
\node[lbl, text=dorange] at (axis cs:702.25,1312.5) {D1[1/8]};
\node[lbl, text=dblue] at (axis cs:702.25,1250) {MN1[6/8] W1[2/8] D1SUP};
\node[lbl, text=magen] at (axis cs:702.25,1187.5) {D1[-1/8]};
\node[lbl, text=mvred] at (axis cs:702.25,1125) {MN1[5/8] W1[1/8] D1[-2/8]};
% candles: wicks (low to high)
\addplot[black, line width=0.3pt, mark=none, forget plot, unbounded coords=jump]
  table[x=x, y=y] {\candles};
% bodies (open to close)
\addplot[black, line width=0.8pt, mark=none, forget plot, unbounded coords=jump]
  table[x=x, y=b] {\candles};
% white interiors of rising candles
\addplot[white, line width=0.32pt, mark=none, forget plot, unbounded coords=jump,
  restrict expr to domain={abs(\thisrow{s})}{0.5:2}]
  table[x=x, y expr={\thisrow{b}+0.45*\thisrow{s}}] {\candles};
% anchors for the price boxes
\coordinate (c1625) at (axis cs:935,1625);
\coordinate (c1562) at (axis cs:935,1562.5);
\coordinate (c1500) at (axis cs:935,1500);
\coordinate (c1468) at (axis cs:935,1468.75);
\coordinate (c1437) at (axis cs:935,1437.5);
\coordinate (c1375) at (axis cs:935,1375);
\coordinate (c1312) at (axis cs:935,1312.5);
\coordinate (c1299) at (axis cs:935,1299.69);
\coordinate (c1250) at (axis cs:935,1250);
\coordinate (c1187) at (axis cs:935,1187.5);
\coordinate (c1125) at (axis cs:935,1125);
\end{axis}
\node[pbox, fill=orred] at (c1625) {1625.00};
\node[pbox, fill=dolive] at (c1562) {1562.50};
\node[pbox, fill=dblue] at (c1500) {1500.00};
\node[pbox, fill=red] at (c1468) {1468.75};
\node[pbox, fill=dolive] at (c1437) {1437.50};
\node[pbox, fill=orred] at (c1375) {1375.00};
\node[pbox, fill=dorange] at (c1312) {1312.50};
\node[pbox, fill=black, yshift=1.25pt] at (c1299) {1299.69};
\node[pbox, fill=dblue] at (c1250) {1250.00};
\node[pbox, fill=magen] at (c1187) {1187.50};
\node[pbox, fill=mvred] at (c1125) {1125.00};
\node[anchor=west, inner sep=0pt, font=\smfont] at (2,496.75) {\#RTSI,Daily\ \ 1356.42 1356.42 1279.74 1299.69};
\end{tikzpicture}
\end{document}
